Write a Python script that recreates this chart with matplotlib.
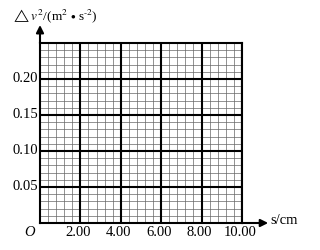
import numpy as np
import matplotlib.pyplot as plt

plt.rcParams['font.family'] = ['Liberation Serif', 'DejaVu Serif']
plt.rcParams['mathtext.fontset'] = 'stix'

# axis ranges and ticks
x_max = 10.0
y_max = 0.25
x_ticks = [2.0, 4.0, 6.0, 8.0, 10.0]
x_labels = ['2.00', '4.00', '6.00', '8.00', '10.00']
y_ticks = [0.05, 0.10, 0.15, 0.20]
y_labels = ['0.05', '0.10', '0.15', '0.20']
x_minor_step = 0.4
y_minor_step = 0.01

fig = plt.figure(figsize=(3.2, 2.5), dpi=100)
ax = fig.add_axes([0.125, 0.108, 0.631, 0.72])
ax.set_xlim(0, x_max)
ax.set_ylim(0, y_max)

# minor grid
for xv in np.arange(0, x_max + 1e-9, x_minor_step):
    ax.axvline(xv, color='#666666', lw=0.5, zorder=1)
for yv in np.arange(0, y_max + 1e-9, y_minor_step):
    ax.axhline(yv, color='#666666', lw=0.5, zorder=1)
# major grid
for xv in x_ticks:
    ax.axvline(xv, color='black', lw=1.5, zorder=2)
for yv in y_ticks:
    ax.axhline(yv, color='black', lw=1.5, zorder=2)

for sp in ax.spines.values():
    sp.set_linewidth(1.5)
    sp.set_zorder(3)

ax.set_xticks([])
ax.set_yticks([])

fs = 10.5
for xv, lab in zip(x_ticks, x_labels):
    ax.text(xv - 0.1, -0.004, lab, ha='center', va='top', fontsize=fs)
for yv, lab in zip(y_ticks, y_labels):
    ax.text(-0.1, yv, lab, ha='right', va='center', fontsize=fs)
ax.text(-0.25, -0.004, 'O', ha='right', va='top', fontsize=fs, style='italic')

# axis arrows
ax.annotate('', xy=(x_max + 1.3, 0), xytext=(x_max, 0),
            arrowprops=dict(arrowstyle='-|>', color='black', lw=1.5,
                            mutation_scale=11, shrinkA=0, shrinkB=0),
            annotation_clip=False)
ax.annotate('', xy=(0, y_max + 0.025), xytext=(0, y_max),
            arrowprops=dict(arrowstyle='-|>', color='black', lw=1.5,
                            mutation_scale=11, shrinkA=0, shrinkB=0),
            annotation_clip=False)

ax.text(x_max + 1.4, 0.004, 's/cm', ha='left', va='center', fontsize=fs)
fig.text(0.038, 0.935, r'$\triangle v^2$/(m$^2$ $\bullet$ s$^{\text{-}2}$)', ha='left', va='center',
         fontsize=9.5)

fig.savefig('out.png', dpi=100)
